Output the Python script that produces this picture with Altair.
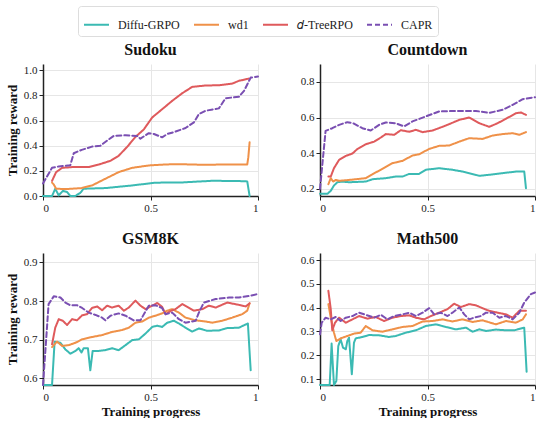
import altair as alt
import pandas as pd

METHODS = ["Diffu-GRPO", "wd1", "𝑑-TreeRPO", "CAPR"]
COLORS = ["#3bbab3", "#ef9149", "#df5a5c", "#7a4fb2"]
DASHES = [[1, 0], [1, 0], [1, 0], [5, 3]]
PANELS = ["Sudoku", "Countdown", "GSM8K", "Math500"]
X_TICKS = [0, 0.5, 1]

# ---------------- Sudoku ----------------
sud_diffu_x = [0, 0.042, 0.057, 0.073, 0.092, 0.112, 0.127, 0.15, 0.174, 0.189, 0.29, 0.415, 0.523, 0.648, 0.787, 0.911, 0.95, 0.961]
sud_diffu_y = [0, 0, 0.058, 0.005, 0.04, 0.032, 0, 0, 0.026, 0.058, 0.063, 0.084, 0.106, 0.108, 0.121, 0.119, 0.116, 0]
sud_wd1_x = [0.042, 0.05, 0.061, 0.104, 0.18, 0.228, 0.29, 0.352, 0.415, 0.492, 0.57, 0.632, 0.756, 0.849, 0.95, 0.955, 0.961]
sud_wd1_y = [0.106, 0.092, 0.058, 0.055, 0.063, 0.084, 0.137, 0.19, 0.224, 0.243, 0.251, 0.253, 0.248, 0.251, 0.251, 0.309, 0.427]
sud_tree_x = [0.042, 0.061, 0.089, 0.135, 0.213, 0.259, 0.314, 0.352, 0.391, 0.43, 0.469, 0.508, 0.554, 0.601, 0.648, 0.694, 0.756, 0.818, 0.88, 0.911, 0.958]
sud_tree_y = [0.12, 0.19, 0.224, 0.23, 0.23, 0.25, 0.28, 0.32, 0.39, 0.47, 0.53, 0.625, 0.69, 0.757, 0.818, 0.868, 0.879, 0.881, 0.894, 0.916, 0.934]
sud_capr_x = [0, 0.042, 0.073, 0.127, 0.143, 0.18, 0.228, 0.267, 0.298, 0.329, 0.384, 0.438, 0.453, 0.492, 0.516, 0.554, 0.578, 0.616, 0.663, 0.702, 0.725, 0.756, 0.818, 0.849, 0.911, 0.935, 0.966, 1.0]
sud_capr_y = [0.10, 0.224, 0.235, 0.245, 0.34, 0.367, 0.393, 0.40, 0.44, 0.478, 0.483, 0.478, 0.456, 0.50, 0.493, 0.467, 0.493, 0.512, 0.541, 0.586, 0.652, 0.678, 0.697, 0.778, 0.789, 0.836, 0.942, 0.95]

# ---------------- Countdown ----------------
cd_diffu_x = [0, 0.034, 0.05, 0.065, 0.081, 0.104, 0.135, 0.213, 0.244, 0.306, 0.352, 0.384, 0.415, 0.461, 0.492, 0.554, 0.616, 0.663, 0.741, 0.787, 0.849, 0.911, 0.95, 0.958]
cd_diffu_y = [0.172, 0.172, 0.189, 0.219, 0.237, 0.241, 0.237, 0.241, 0.254, 0.26, 0.269, 0.269, 0.284, 0.284, 0.307, 0.316, 0.307, 0.297, 0.273, 0.279, 0.288, 0.297, 0.297, 0.204]
cd_wd1_x = [0.039, 0.05, 0.061, 0.073, 0.089, 0.135, 0.182, 0.213, 0.244, 0.29, 0.337, 0.384, 0.43, 0.461, 0.508, 0.554, 0.601, 0.648, 0.694, 0.756, 0.803, 0.849, 0.896, 0.927, 0.958]
cd_wd1_y = [0.226, 0.26, 0.241, 0.25, 0.245, 0.25, 0.256, 0.26, 0.282, 0.312, 0.344, 0.357, 0.387, 0.394, 0.424, 0.441, 0.443, 0.465, 0.484, 0.48, 0.499, 0.507, 0.512, 0.503, 0.518]
cd_tree_x = [0.039, 0.05, 0.065, 0.089, 0.12, 0.151, 0.174, 0.213, 0.252, 0.283, 0.306, 0.345, 0.376, 0.415, 0.446, 0.477, 0.523, 0.57, 0.601, 0.648, 0.694, 0.741, 0.787, 0.826, 0.865, 0.911, 0.935, 0.958]
cd_tree_y = [0.269, 0.269, 0.316, 0.363, 0.385, 0.398, 0.424, 0.45, 0.465, 0.488, 0.507, 0.503, 0.529, 0.52, 0.531, 0.518, 0.527, 0.548, 0.563, 0.587, 0.60, 0.568, 0.548, 0.568, 0.593, 0.624, 0.628, 0.615]
cd_capr_x = [0, 0.026, 0.057, 0.089, 0.127, 0.158, 0.197, 0.236, 0.275, 0.306, 0.352, 0.391, 0.43, 0.492, 0.554, 0.632, 0.725, 0.787, 0.849, 0.896, 0.943, 1.0]
cd_capr_y = [0.2, 0.525, 0.54, 0.559, 0.574, 0.566, 0.54, 0.527, 0.559, 0.572, 0.568, 0.55, 0.578, 0.606, 0.634, 0.637, 0.637, 0.626, 0.643, 0.671, 0.703, 0.714]

# ---------------- GSM8K ----------------
gsm_diffu_x = [0, 0.042, 0.054, 0.081, 0.104, 0.127, 0.151, 0.166, 0.179, 0.189, 0.209, 0.22, 0.231, 0.259, 0.29, 0.321, 0.352, 0.384, 0.415, 0.446, 0.477, 0.508, 0.531, 0.554, 0.578, 0.609, 0.632, 0.663, 0.694, 0.725, 0.764, 0.818, 0.857, 0.911, 0.953, 0.966]
gsm_diffu_y = [0.583, 0.583, 0.695, 0.692, 0.675, 0.664, 0.671, 0.678, 0.667, 0.678, 0.678, 0.621, 0.671, 0.671, 0.673, 0.678, 0.673, 0.686, 0.699, 0.701, 0.716, 0.733, 0.736, 0.733, 0.744, 0.749, 0.742, 0.731, 0.721, 0.729, 0.723, 0.724, 0.73, 0.731, 0.742, 0.621]
gsm_wd1_x = [0.042, 0.065, 0.089, 0.12, 0.151, 0.182, 0.228, 0.275, 0.321, 0.368, 0.399, 0.43, 0.461, 0.492, 0.523, 0.554, 0.578, 0.601, 0.632, 0.663, 0.71, 0.756, 0.787, 0.834, 0.88, 0.927, 0.95, 0.961]
gsm_wd1_y = [0.681, 0.695, 0.684, 0.686, 0.692, 0.701, 0.707, 0.712, 0.72, 0.725, 0.731, 0.744, 0.747, 0.757, 0.762, 0.768, 0.775, 0.779, 0.77, 0.757, 0.75, 0.747, 0.744, 0.749, 0.757, 0.766, 0.775, 0.794]
gsm_tree_x = [0.042, 0.057, 0.073, 0.092, 0.112, 0.135, 0.158, 0.182, 0.205, 0.228, 0.252, 0.275, 0.298, 0.321, 0.352, 0.376, 0.399, 0.43, 0.453, 0.477, 0.508, 0.531, 0.554, 0.57, 0.593, 0.616, 0.648, 0.671, 0.702, 0.741, 0.772, 0.803, 0.857, 0.911, 0.943, 0.961]
gsm_tree_y = [0.688, 0.731, 0.753, 0.749, 0.738, 0.753, 0.75, 0.763, 0.766, 0.782, 0.786, 0.776, 0.788, 0.783, 0.788, 0.775, 0.783, 0.801, 0.788, 0.779, 0.788, 0.795, 0.785, 0.766, 0.774, 0.779, 0.792, 0.785, 0.775, 0.779, 0.788, 0.783, 0.796, 0.79, 0.786, 0.794]
gsm_capr_x = [0, 0.011, 0.026, 0.05, 0.081, 0.104, 0.127, 0.158, 0.182, 0.213, 0.244, 0.275, 0.29, 0.314, 0.352, 0.384, 0.422, 0.453, 0.492, 0.523, 0.554, 0.57, 0.601, 0.632, 0.663, 0.71, 0.725, 0.748, 0.803, 0.865, 0.911, 0.958, 1.0]
gsm_capr_y = [0.583, 0.671, 0.792, 0.812, 0.809, 0.796, 0.789, 0.789, 0.782, 0.77, 0.764, 0.757, 0.75, 0.762, 0.768, 0.762, 0.75, 0.75, 0.788, 0.789, 0.782, 0.766, 0.77, 0.753, 0.744, 0.749, 0.77, 0.796, 0.805, 0.809, 0.809, 0.813, 0.818]

# ---------------- Math500 ----------------
m5_diffu_x = [0, 0.045, 0.054, 0.065, 0.076, 0.085, 0.096, 0.107, 0.12, 0.127, 0.135, 0.148, 0.158, 0.166, 0.197, 0.228, 0.275, 0.321, 0.352, 0.399, 0.446, 0.492, 0.539, 0.585, 0.632, 0.679, 0.71, 0.741, 0.772, 0.818, 0.865, 0.904, 0.95, 0.961]
m5_diffu_y = [0.075, 0.075, 0.249, 0.075, 0.092, 0.239, 0.267, 0.232, 0.225, 0.26, 0.274, 0.12, 0.253, 0.271, 0.277, 0.285, 0.284, 0.277, 0.281, 0.295, 0.305, 0.323, 0.33, 0.319, 0.309, 0.316, 0.299, 0.309, 0.302, 0.308, 0.305, 0.305, 0.316, 0.131]
m5_wd1_x = [0.039, 0.05, 0.065, 0.076, 0.096, 0.127, 0.158, 0.189, 0.213, 0.244, 0.29, 0.337, 0.384, 0.43, 0.477, 0.523, 0.57, 0.616, 0.663, 0.71, 0.756, 0.818, 0.865, 0.911, 0.943, 0.958]
m5_wd1_y = [0.415, 0.358, 0.295, 0.26, 0.271, 0.281, 0.291, 0.295, 0.323, 0.305, 0.299, 0.309, 0.319, 0.323, 0.342, 0.344, 0.351, 0.342, 0.351, 0.34, 0.347, 0.33, 0.344, 0.337, 0.351, 0.372]
m5_tree_x = [0.039, 0.05, 0.057, 0.07, 0.089, 0.12, 0.151, 0.182, 0.22, 0.259, 0.298, 0.337, 0.376, 0.415, 0.446, 0.484, 0.516, 0.554, 0.593, 0.624, 0.655, 0.694, 0.725, 0.756, 0.787, 0.826, 0.865, 0.896, 0.927, 0.958]
m5_tree_y = [0.471, 0.394, 0.305, 0.337, 0.358, 0.337, 0.351, 0.365, 0.354, 0.361, 0.344, 0.358, 0.365, 0.368, 0.358, 0.351, 0.365, 0.379, 0.394, 0.417, 0.403, 0.415, 0.41, 0.398, 0.387, 0.379, 0.372, 0.358, 0.387, 0.387]
m5_capr_x = [0, 0.008, 0.026, 0.05, 0.073, 0.096, 0.12, 0.151, 0.182, 0.213, 0.252, 0.283, 0.314, 0.345, 0.384, 0.415, 0.446, 0.477, 0.508, 0.531, 0.562, 0.593, 0.616, 0.648, 0.671, 0.694, 0.717, 0.748, 0.772, 0.803, 0.834, 0.865, 0.896, 0.927, 0.95, 0.981, 1.0]
m5_capr_y = [0.288, 0.337, 0.358, 0.351, 0.361, 0.344, 0.358, 0.365, 0.379, 0.37, 0.358, 0.37, 0.351, 0.365, 0.372, 0.379, 0.365, 0.379, 0.398, 0.372, 0.379, 0.365, 0.379, 0.401, 0.372, 0.351, 0.358, 0.365, 0.379, 0.379, 0.358, 0.365, 0.351, 0.379, 0.422, 0.457, 0.464]

Y_DOMAINS = {"Sudoku": [0, 1.05], "Countdown": [0.16, 0.90], "GSM8K": [0.583, 0.924], "Math500": [0.075, 0.63]}
Y_TICKS = {"Sudoku": [0, 0.2, 0.4, 0.6, 0.8, 1.0], "Countdown": [0.2, 0.4, 0.6, 0.8],
           "GSM8K": [0.6, 0.7, 0.8, 0.9], "Math500": [0.1, 0.2, 0.3, 0.4, 0.5, 0.6]}

SERIES = {
    "Sudoku": [(sud_diffu_x, sud_diffu_y), (sud_wd1_x, sud_wd1_y), (sud_tree_x, sud_tree_y), (sud_capr_x, sud_capr_y)],
    "Countdown": [(cd_diffu_x, cd_diffu_y), (cd_wd1_x, cd_wd1_y), (cd_tree_x, cd_tree_y), (cd_capr_x, cd_capr_y)],
    "GSM8K": [(gsm_diffu_x, gsm_diffu_y), (gsm_wd1_x, gsm_wd1_y), (gsm_tree_x, gsm_tree_y), (gsm_capr_x, gsm_capr_y)],
    "Math500": [(m5_diffu_x, m5_diffu_y), (m5_wd1_x, m5_wd1_y), (m5_tree_x, m5_tree_y), (m5_capr_x, m5_capr_y)],
}

rows = []
for panel in PANELS:
    for m, (xs, ys) in zip(METHODS, SERIES[panel]):
        for i, (xv, yv) in enumerate(zip(xs, ys)):
            rows.append({"panel": panel, "method": m, "x": xv, "y": yv, "order": i})
df = pd.DataFrame(rows)

FONT = "Liberation Serif"
LEG = dict(title=None, orient="none", direction="horizontal", columns=4, legendX=35, legendY=-58)


def make_panel(panel, show_ytitle, show_xtitle):
    d = df[df.panel == panel]
    return alt.Chart(d).mark_line(strokeWidth=2, strokeCap="round", strokeJoin="round").encode(
        x=alt.X("x:Q", scale=alt.Scale(domain=[0, 1], nice=False, zero=False),
                axis=alt.Axis(values=X_TICKS, format="~g", labelFont=FONT, labelFontSize=11,
                              title="Training progress" if show_xtitle else None)),
        y=alt.Y("y:Q", scale=alt.Scale(domain=Y_DOMAINS[panel], nice=False, zero=False),
                axis=alt.Axis(values=Y_TICKS[panel], format=".1f", labelFont=FONT, labelFontSize=11,
                              title="Training reward" if show_ytitle else None)),
        color=alt.Color("method:N", scale=alt.Scale(domain=METHODS, range=COLORS),
                        legend=alt.Legend(**LEG)),
        strokeDash=alt.StrokeDash("method:N", scale=alt.Scale(domain=METHODS, range=DASHES),
                                  legend=alt.Legend(**LEG)),
        order="order:Q",
        detail="method:N",
    ).properties(width=215, height=132,
                 title=alt.TitleParams(panel, frame="group", anchor="middle"))


top = alt.hconcat(make_panel("Sudoku", True, False), make_panel("Countdown", False, False), spacing=41)
bottom = alt.hconcat(make_panel("GSM8K", True, True), make_panel("Math500", False, True), spacing=41)

chart = alt.vconcat(top, bottom, spacing=18).resolve_scale(
    color="shared", strokeDash="shared", x="independent", y="independent"
).properties(
    padding={"left": 6, "top": 5, "right": 0, "bottom": 0}
).configure_view(strokeWidth=0).configure_axis(
    labelFont=FONT, labelFontSize=11, labelColor="#222222",
    titleFont=FONT, titleFontSize=13, titleFontWeight="bold", titleColor="#111111",
    domainColor="#222222", domainWidth=1.5, tickColor="#222222", tickSize=4, tickWidth=1,
    gridColor="#e6e6e6", gridWidth=1, labelPadding=2,
).configure_axisX(titlePadding=3, labelFont=FONT).configure_axisY(titlePadding=4, labelFont=FONT).configure_title(
    font=FONT, fontSize=16, fontWeight="bold", color="#111111", offset=6
).configure_legend(
    labelFont=FONT, labelFontSize=12, labelColor="#222222",
    symbolType="stroke", symbolSize=625, symbolStrokeWidth=2,
    strokeColor="#dddddd", cornerRadius=3, padding=5, columnPadding=10, labelOffset=8,
    fillColor="white",
)

chart.save("out.html", embed_options={"renderer": "svg", "actions": False})
